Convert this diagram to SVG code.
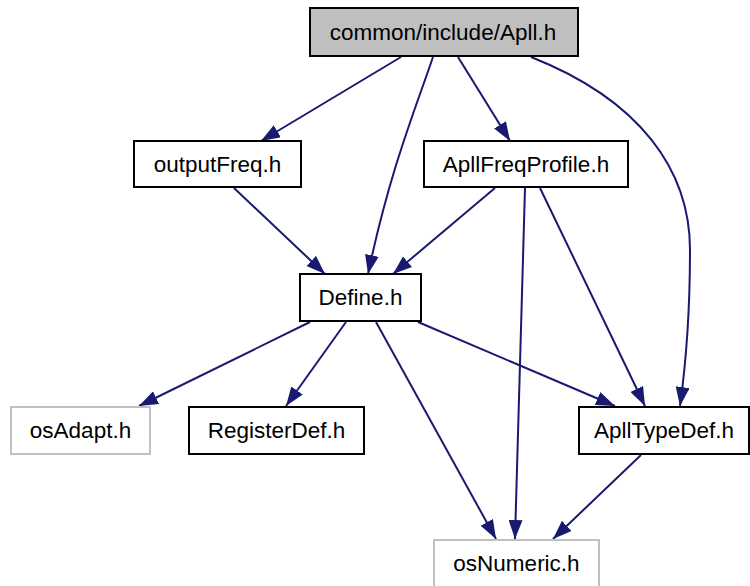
<svg xmlns="http://www.w3.org/2000/svg" width="750" height="586" viewBox="0 0 750 586">
  <defs>
    <marker id="arrow" viewBox="0 0 19 14" refX="19" refY="7" markerWidth="19" markerHeight="14" markerUnits="userSpaceOnUse" orient="auto">
      <path d="M0,0 L19,7 L0,14 Z" fill="#191970"/>
    </marker>
  </defs>
  <style>
    .node rect { fill: #ffffff; stroke: #000000; stroke-width: 2; }
    .node.root rect { fill: #bfbfbf; }
    .node.ext rect { stroke: #bfbfbf; }
    .node text { font-family: "Liberation Sans", Arial, sans-serif; font-size: 22.5px; fill: #000000; text-anchor: middle; }
    .edges path { fill: none; stroke: #191970; stroke-width: 2; marker-end: url(#arrow); }
  </style>
  <rect width="750" height="586" fill="#ffffff"/>

  <g class="edges" id="edges">
    <path d="M401,57 L261,141"/>
    <path d="M433,57 C415,110 390,170 368,274"/>
    <path d="M458,57 L510,141"/>
    <path d="M531,57 C640,100 690,170 690,250 C690,320 685,370 680,406"/>
    <path d="M234,188 L325,274"/>
    <path d="M495,188 L393,274"/>
    <path d="M525,188 L515,539"/>
    <path d="M540,188 L645,406"/>
    <path d="M310,322 L139,406"/>
    <path d="M346,322 L286,406"/>
    <path d="M376,322 L496,539"/>
    <path d="M418,322 L615,406"/>
    <path d="M641,455 L553,539"/>
  </g>

  <g class="node root" id="node-apll">
    <rect x="310" y="8" width="268" height="48"/>
    <text x="443" y="40">common/include/Apll.h</text>
  </g>
  <g class="node" id="node-outputfreq">
    <rect x="134" y="141" width="167" height="46"/>
    <text x="217.5" y="172">outputFreq.h</text>
  </g>
  <g class="node" id="node-apllfreqprofile">
    <rect x="424" y="141" width="204" height="46"/>
    <text x="526" y="172">ApllFreqProfile.h</text>
  </g>
  <g class="node" id="node-define">
    <rect x="300" y="274" width="121" height="47"/>
    <text x="360.5" y="305">Define.h</text>
  </g>
  <g class="node ext" id="node-osadapt">
    <rect x="11" y="407" width="139" height="47"/>
    <text x="80.5" y="438">osAdapt.h</text>
  </g>
  <g class="node" id="node-registerdef">
    <rect x="189" y="407" width="175" height="47"/>
    <text x="276.5" y="438">RegisterDef.h</text>
  </g>
  <g class="node" id="node-aplltypedef">
    <rect x="579" y="407" width="170" height="47"/>
    <text x="664" y="438">ApllTypeDef.h</text>
  </g>
  <g class="node ext" id="node-osnumeric">
    <rect x="434" y="540" width="165" height="48"/>
    <text x="516.5" y="571">osNumeric.h</text>
  </g>
</svg>
